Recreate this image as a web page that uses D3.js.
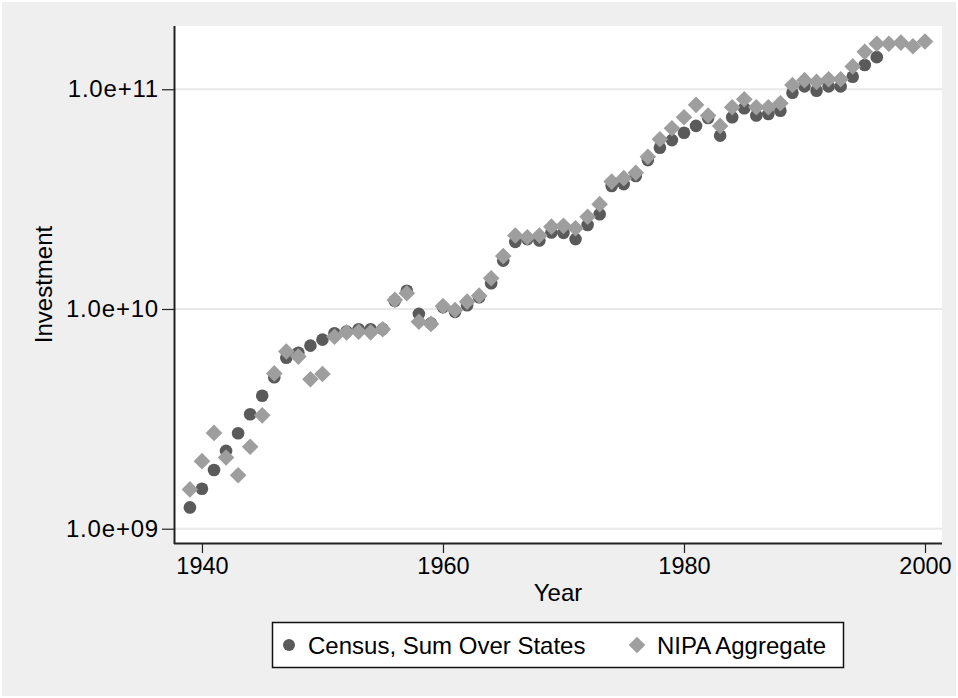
<!DOCTYPE html>
<html>
<head>
<meta charset="utf-8">
<script src="https://cdn.jsdelivr.net/npm/d3@7"></script>
<style>
  body { margin: 0; background: #fff; }
  text { font-family: "Liberation Sans", Arial, sans-serif; fill: #000; }
</style>
</head>
<body>
<svg id="chart" width="958" height="698"></svg>
<script>
// data
const censusYears = d3.range(1939, 1997);
const census = [
  1.25e9, 1.52e9, 1.85e9, 2.26e9, 2.72e9, 3.32e9, 4.03e9, 4.89e9, 6.0e9, 6.32e9,
  6.81e9, 7.25e9, 7.75e9, 7.9e9, 8.09e9, 8.09e9, 8.1e9, 1.09e10, 1.21e10, 9.5e9,
  8.6e9, 1.02e10, 9.7e9, 1.04e10, 1.13e10, 1.31e10, 1.66e10, 2.02e10, 2.08e10, 2.05e10,
  2.23e10, 2.22e10, 2.08e10, 2.41e10, 2.70e10, 3.63e10, 3.70e10, 4.03e10, 4.76e10, 5.42e10,
  5.87e10, 6.34e10, 6.81e10, 7.4e10, 6.15e10, 7.46e10, 8.20e10, 7.59e10, 7.72e10, 7.98e10,
  9.64e10, 1.03e11, 9.85e10, 1.03e11, 1.03e11, 1.14e11, 1.29e11, 1.40e11
];
const nipaYears = d3.range(1939, 2001);
const nipa = [
  1.51e9, 2.03e9, 2.73e9, 2.11e9, 1.75e9, 2.36e9, 3.28e9, 5.09e9, 6.4e9, 6.07e9,
  4.79e9, 5.06e9, 7.48e9, 7.83e9, 7.88e9, 7.83e9, 8.09e9, 1.10e10, 1.18e10, 8.75e9,
  8.55e9, 1.03e10, 9.9e9, 1.08e10, 1.15e10, 1.38e10, 1.74e10, 2.16e10, 2.12e10, 2.16e10,
  2.37e10, 2.39e10, 2.33e10, 2.63e10, 3.0e10, 3.80e10, 3.94e10, 4.17e10, 4.93e10, 5.92e10,
  6.64e10, 7.46e10, 8.49e10, 7.59e10, 6.81e10, 8.28e10, 9.01e10, 8.28e10, 8.28e10, 8.63e10,
  1.045e11, 1.10e11, 1.08e11, 1.11e11, 1.11e11, 1.27e11, 1.48e11, 1.61e11, 1.61e11, 1.63e11,
  1.57e11, 1.65e11
];
const xTicks = [1940, 1960, 1980, 2000];
const yTicks = [1e9, 1e10, 1e11];
const seriesNames = ["Census, Sum Over States", "NIPA Aggregate"];

const svg = d3.select("#chart");
const W = 958, H = 698;
const plot = { left: 174, right: 942, top: 26, bottom: 543 };

const darkGray = "#5a5a5a", lightGray = "#9e9e9e";

// background
svg.append("rect")
  .attr("x", 2).attr("y", 2)
  .attr("width", W - 4).attr("height", H - 4)
  .attr("fill", "#efefef");

svg.append("rect")
  .attr("x", plot.left).attr("y", plot.top)
  .attr("width", plot.right - plot.left)
  .attr("height", plot.bottom - plot.top)
  .attr("fill", "#fff");

const x = d3.scaleLinear()
  .domain([1937.68, 2001.41])
  .range([plot.left, plot.right]);

const y = d3.scaleLog()
  .domain([8.61e8, 1.94e11])
  .range([plot.bottom, plot.top]);

// grid lines
svg.append("g")
  .selectAll("line")
  .data(yTicks)
  .join("line")
    .attr("x1", plot.left).attr("x2", plot.right)
    .attr("y1", d => y(d)).attr("y2", d => y(d))
    .attr("stroke", "#e8e8e8")
    .attr("stroke-width", 2);

// y axis
const yAxis = svg.append("g")
  .attr("transform", `translate(${plot.left},0)`)
  .call(d3.axisLeft(y).tickValues(yTicks).tickSize(12).tickPadding(3)
    .tickFormat(d => d3.format(".1e")(d).replace(/e\+(\d)$/, "e+0$1")));
yAxis.select(".domain").attr("stroke", "#222").attr("stroke-width", 2)
  .attr("d", `M0.5,${plot.bottom + 1}V${plot.top}`);
yAxis.selectAll(".tick line").attr("stroke", "#222").attr("stroke-width", 1.2);
yAxis.selectAll(".tick text")
  .style("font-size", "24px")
  .style("letter-spacing", "0.8px")
  .style("font-family", "Liberation Sans, Arial, sans-serif")
  .attr("fill", "#000");

// x axis
const xAxis = svg.append("g")
  .attr("transform", `translate(0,${plot.bottom})`)
  .call(d3.axisBottom(x).tickValues(xTicks).tickSize(10).tickPadding(4)
    .tickFormat(d3.format("d")));
xAxis.select(".domain").attr("stroke", "#222").attr("stroke-width", 2)
  .attr("d", `M${plot.left},0.5H${plot.right}`);
xAxis.selectAll(".tick line").attr("stroke", "#222").attr("stroke-width", 1.2);
xAxis.selectAll(".tick text")
  .style("font-size", "23.5px")
  .style("font-family", "Liberation Sans, Arial, sans-serif")
  .attr("fill", "#000");

// axis titles
svg.append("text")
  .attr("transform", `translate(52,${(plot.top + plot.bottom) / 2}) rotate(-90)`)
  .attr("text-anchor", "middle")
  .style("font-size", "24px")
  .text("Investment");

svg.append("text")
  .attr("x", (plot.left + plot.right) / 2)
  .attr("y", 601)
  .attr("text-anchor", "middle")
  .style("font-size", "24px")
  .text("Year");

// markers
const diamond = d3.symbol().type(d3.symbolSquare).size(138);

svg.append("g")
  .selectAll("circle")
  .data(censusYears.map((yr, i) => [yr, census[i]]))
  .join("circle")
    .attr("cx", d => x(d[0]))
    .attr("cy", d => y(d[1]))
    .attr("r", 6.3)
    .attr("fill", darkGray);

svg.append("g")
  .selectAll("path")
  .data(nipaYears.map((yr, i) => [yr, nipa[i]]))
  .join("path")
    .attr("d", diamond)
    .attr("transform", d => `translate(${x(d[0])},${y(d[1])}) rotate(45)`)
    .attr("fill", lightGray);

// legend
const legend = svg.append("g");
legend.append("rect")
  .attr("x", 272.5).attr("y", 622.5)
  .attr("width", 571).attr("height", 45)
  .attr("fill", "#fff")
  .attr("stroke", "#111")
  .attr("stroke-width", 1.5);

legend.append("circle")
  .attr("cx", 289).attr("cy", 645).attr("r", 6)
  .attr("fill", darkGray);
legend.append("text")
  .attr("x", 308).attr("y", 654)
  .style("font-size", "24px")
  .text(seriesNames[0]);

legend.append("path")
  .attr("d", diamond)
  .attr("transform", "translate(637,645) rotate(45)")
  .attr("fill", lightGray);
legend.append("text")
  .attr("x", 657).attr("y", 654)
  .style("font-size", "24px")
  .text(seriesNames[1]);
</script>
</body>
</html>
